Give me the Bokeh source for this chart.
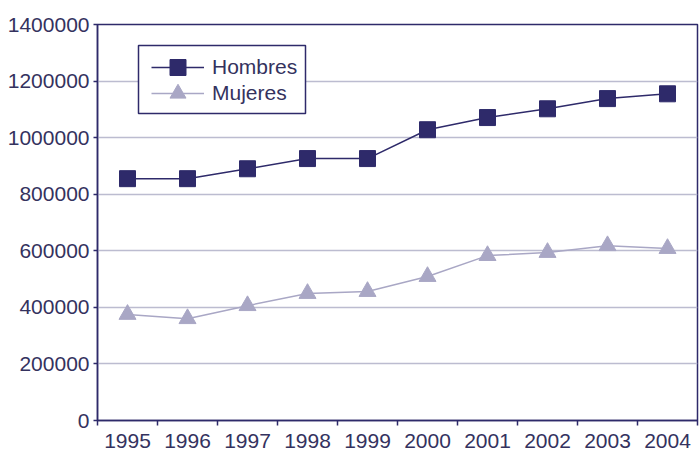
from bokeh.plotting import figure
from bokeh.models import Range1d, FixedTicker, NumeralTickFormatter, Legend, LegendItem, BoxAnnotation
from bokeh.embed import file_html
from bokeh.resources import INLINE

years = [1995, 1996, 1997, 1998, 1999, 2000, 2001, 2002, 2003, 2004]
hombres = [855000, 855000, 890000, 926000, 926000, 1028000, 1071000, 1102000, 1138000, 1155000]
mujeres = [375000, 360000, 406000, 449000, 456000, 509000, 583000, 594000, 618000, 608000]
y_ticks = [0, 200000, 400000, 600000, 800000, 1000000, 1200000, 1400000]

NAVY = "#2e2a6a"
LAV = "#a9a7c5"
TEXT = "#34325e"
GRID = "#bcbcd0"
FONT = "Liberation Sans"

p = figure(width=699, height=454, output_backend="svg", toolbar_location=None,
           x_range=Range1d(years[0] - 0.5, years[-1] + 0.5),
           y_range=Range1d(0, 1400000),
           min_border_left=97, min_border_right=2, min_border_top=24, min_border_bottom=34)
p.background_fill_color = "white"
p.border_fill_color = "white"
p.outline_line_color = NAVY
p.outline_line_width = 1.5

# axes
p.xaxis.ticker = FixedTicker(ticks=years, minor_ticks=[y - 0.5 for y in years] + [years[-1] + 0.5])
p.xaxis.minor_tick_line_color = NAVY
p.xaxis.minor_tick_line_width = 1.5
p.xaxis.minor_tick_out = 5
p.xaxis.minor_tick_in = 0
p.xaxis.major_label_standoff = 7
p.yaxis.ticker = FixedTicker(ticks=y_ticks)
p.yaxis.formatter = NumeralTickFormatter(format="0")
p.yaxis.major_tick_out = 4
p.yaxis.major_tick_in = 0
p.yaxis.minor_tick_line_color = None
p.yaxis.major_label_standoff = 4
for ax in (p.xaxis, p.yaxis):
    ax.axis_line_color = NAVY
    ax.axis_line_width = 1.5
    ax.major_tick_line_width = 1.5
    ax.major_label_text_font = FONT
    ax.major_label_text_font_size = "21px"
    ax.major_label_text_color = TEXT
p.xaxis.major_tick_line_color = None
p.yaxis.major_tick_line_color = NAVY

p.xgrid.grid_line_color = None
p.ygrid.ticker = FixedTicker(ticks=y_ticks)
p.ygrid.grid_line_color = GRID
p.ygrid.grid_line_width = 1.5

l1 = p.line(years, hombres, line_color=NAVY, line_width=1.5)
s1 = p.scatter(years, hombres, marker="square", size=16, fill_color=NAVY, line_color=NAVY)
l2 = p.line(years, mujeres, line_color=LAV, line_width=1.5)
s2 = p.scatter(years, mujeres, marker="triangle", size=17, fill_color=LAV, line_color=LAV)

# legend frame (white box with navy border)
box = BoxAnnotation(left=138, right=305, top=45, bottom=113,
                    left_units="canvas", right_units="canvas",
                    top_units="canvas", bottom_units="canvas",
                    fill_color="white", fill_alpha=1,
                    line_color=NAVY, line_alpha=1, line_width=1.5, level="annotation")
p.add_layout(box)


def make_legend(label, renderers, loc):
    lg = Legend(items=[LegendItem(label=label, renderers=renderers)], location=loc)
    lg.border_line_color = None
    lg.background_fill_alpha = 0
    lg.label_text_font = FONT
    lg.label_text_font_size = "21px"
    lg.label_text_color = TEXT
    lg.glyph_width = 53
    lg.glyph_height = 40
    lg.label_height = 24
    lg.padding = 0
    lg.margin = 0
    lg.label_standoff = 8
    lg.level = "overlay"
    return lg


p.add_layout(make_legend("Hombres", [l1, s1], (54, 333)), "center")
p.add_layout(make_legend("Mujeres", [l2, s2], (54, 307)), "center")

open("out.html", "w").write(file_html(p, INLINE))
